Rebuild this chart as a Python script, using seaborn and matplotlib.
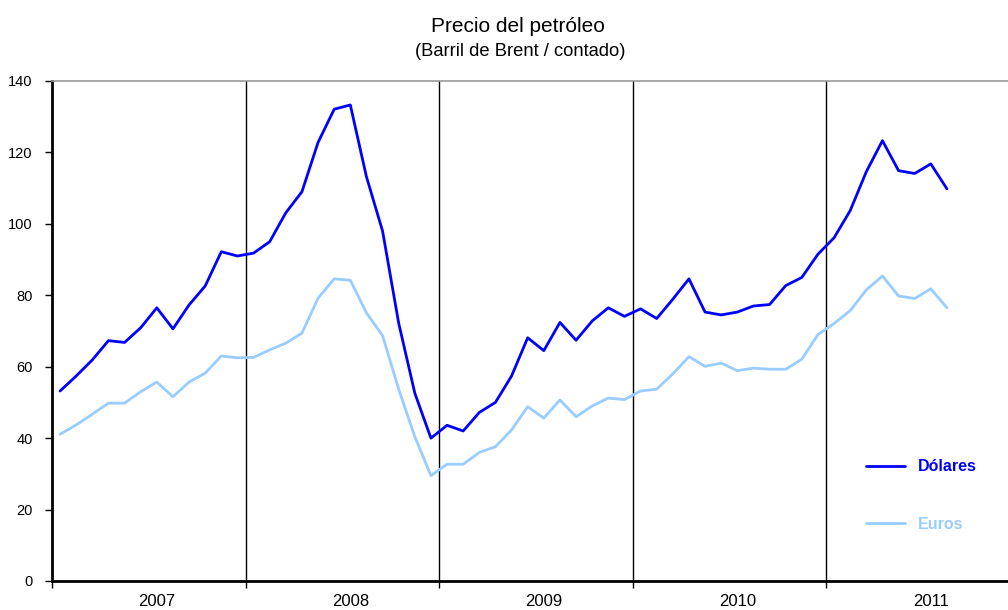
import matplotlib
matplotlib.use("Agg")
import matplotlib.pyplot as plt
import seaborn as sns
import numpy as np
import pandas as pd

# datos mensuales, ene-2007 a ago-2011
years = ["2007", "2008", "2009", "2010", "2011"]
dolares = [53.2, 57.4, 61.9, 67.3, 66.8, 70.9, 76.5, 70.6, 77.3, 82.6, 92.2, 91.0,
           91.8, 95.0, 103.1, 109.0, 122.8, 132.1, 133.3, 113.2, 98.0, 72.2, 52.6, 40.0,
           43.6, 42.0, 47.2, 50.0, 57.4, 68.1, 64.5, 72.4, 67.4, 72.8, 76.5, 74.1,
           76.2, 73.5, 78.9, 84.6, 75.3, 74.5, 75.3, 77.0, 77.4, 82.7, 85.0, 91.5,
           96.1, 103.7, 114.6, 123.3, 114.9, 114.1, 116.8, 109.8]
euros = [41.1, 43.7, 46.7, 49.8, 49.8, 53.0, 55.7, 51.6, 55.7, 58.2, 63.0, 62.5,
         62.6, 64.7, 66.6, 69.4, 79.2, 84.6, 84.2, 75.1, 68.7, 53.7, 40.4, 29.5,
         32.7, 32.7, 36.0, 37.6, 42.3, 48.8, 45.6, 50.7, 46.0, 49.0, 51.2, 50.8,
         53.2, 53.7, 58.0, 62.8, 60.1, 61.0, 58.9, 59.6, 59.3, 59.3, 62.1, 69.0,
         72.1, 75.7, 81.5, 85.4, 79.8, 79.1, 81.8, 76.5]

df = pd.DataFrame({"mes": np.arange(len(dolares)) + 0.5,
                   "Dólares": dolares, "Euros": euros})

sns.set_style("white")
plt.rcParams["font.family"] = ["Liberation Sans", "DejaVu Sans"]
plt.rcParams["text.color"] = "black"
plt.rcParams["xtick.color"] = "black"
plt.rcParams["ytick.color"] = "black"

c_usd = "#0000FF"
c_eur = "#99CCFF"

fig = plt.figure(figsize=(10.08, 6.10), dpi=100)
ax = fig.add_axes([52 / 1008, 29 / 610, 967.5 / 1008, 500 / 610])

sns.lineplot(data=df, x="mes", y="Dólares", color=c_usd, linewidth=2.0, label="Dólares", ax=ax)
sns.lineplot(data=df, x="mes", y="Euros", color=c_eur, linewidth=2.0, label="Euros", ax=ax)

ax.set_xlim(0, 60)
ax.set_ylim(0, 140)
ax.set_xlabel("")
ax.set_ylabel("")

# separadores de año
for b in [12, 24, 36, 48]:
    ax.axvline(b, color="black", linewidth=1.0, zorder=0)

ax.set_yticks(np.arange(0, 141, 20))
ax.tick_params(axis="y", direction="out", length=5, width=1, pad=9, labelsize=10.5, left=True)
ax.set_xticks([0, 12, 24, 36, 48])
ax.set_xticklabels([])
ax.set_xticks([i * 12 + 6.5 for i in range(len(years))], minor=True)
ax.set_xticklabels(years, minor=True)
ax.tick_params(axis="x", which="major", direction="out", length=5, width=1, bottom=True)
ax.tick_params(axis="x", which="minor", length=0, pad=9, labelsize=12)

for s in ["left", "bottom"]:
    ax.spines[s].set_color("black")
    ax.spines[s].set_linewidth(2)
ax.spines["top"].set_color("#999999")
ax.spines["top"].set_linewidth(1.2)
ax.spines["right"].set_visible(False)

leg = ax.legend(loc="upper left", bbox_to_anchor=(0.826, 0.272), frameon=False,
                handlelength=2.5, handletextpad=0.75, labelspacing=2.65,
                prop={"weight": "bold", "size": 11.5}, labelcolor="linecolor")

fig.text(518 / 1008, 1 - 26 / 610, "Precio del petróleo", ha="center", va="center", fontsize=15)
fig.text(520 / 1008, 1 - 52 / 610, "(Barril de Brent / contado)", ha="center", va="center", fontsize=13.2)

plt.savefig("out.png", dpi=100)
plt.close()
